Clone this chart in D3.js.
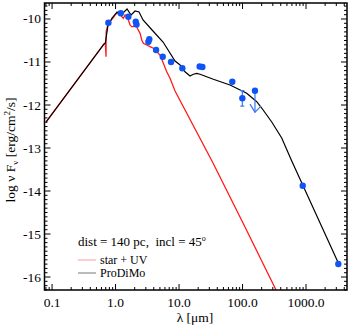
<!DOCTYPE html>
<html>
<head>
<meta charset="utf-8">
<script src="https://cdn.jsdelivr.net/npm/d3@7"></script>
<style>
  body { margin: 0; background: #fff; }
  svg { display: block; font-family: "Liberation Serif", "DejaVu Serif", serif; }
  .note { white-space: pre; }
</style>
</head>
<body>
<svg id="sed" width="349" height="326"></svg>
<script>
// ProDiMo model SED (lambda in micron, log nuFnu)
const modelLam  = [0.0805, 0.659, 0.690, 0.762, 0.881, 1.057, 1.178, 1.312, 1.517, 1.754, 2.028, 2.344, 2.710,
                   3.758, 5.598, 8.650, 10.37, 12.42, 14.89, 16.79, 19.01, 21.43, 34.67, 63.53, 116.4, 167.5,
                   200.4, 288.4, 414.0, 595.7, 887.2, 3228];
const modelFlux = [-12.395, -10.581, -10.558, -10.14, -9.977, -9.837, -9.884, -9.86, -9.767, -9.907, -9.814, -9.837, -10.023,
                   -10.256, -10.535, -10.977, -11.07, -11.226, -11.326, -11.286, -11.263, -11.286, -11.402, -11.535, -11.728, -11.923,
                   -12.07, -12.395, -12.767, -13.30, -13.86, -15.674];

// star + UV input spectrum
const starLam  = [0.0805, 0.659, 0.690, 0.708, 0.711, 0.743, 0.818, 0.904, 0.982, 1.045, 1.148, 1.253, 1.327, 1.413,
                  1.535, 1.592, 1.690, 1.799, 1.905, 2.104, 2.203, 2.432, 2.588, 2.742, 3.097, 3.491, 3.936, 4.457,
                  5.023, 5.662, 6.397, 7.211, 8.650, 34.28, 109.4, 325.1, 501];
const starFlux = [-12.395, -10.581, -10.565, -10.877, -10.295, -10.179, -10.063, -9.984, -9.907, -9.867, -9.853, -9.947, -9.984, -9.907,
                  -9.947, -10.023, -10.140, -10.179, -10.179, -10.1, -10.216, -10.333, -10.488, -10.565, -10.605, -10.644, -10.681, -10.760,
                  -10.837, -11.030, -11.226, -11.379, -11.674, -13.349, -14.837, -16.256, -16.8];

// photometry
const obsLam   = [0.771, 1.208, 1.592, 2.08, 2.14, 3.29, 3.40, 4.35, 5.53, 7.48, 11.27, 21.1, 23.3, 69.0, 99.3, 157, 887, 3228];
const obsFlux  = [-10.086, -9.867, -9.947, -10.063, -10.128, -10.528, -10.472, -10.721, -10.877, -11.0, -11.147, -11.105, -11.116,
                  -11.458, -11.844, -11.667, -13.877, -15.698];
const obsErr   = [0, 0, 0, 0, 0, 0, 0, 0, 0, 0, 0, 0, 0, 0, 0.18, 0, 0, 0];
const obsUpper = [0, 0, 0, 0, 0, 0, 0, 0, 0, 0, 0, 0, 0, 0, 0, 1, 0, 0];

const xTicks = [0.1, 1, 10, 100, 1000];
const xTickLabels = ["0.1", "1.0", "10.0", "100.0", "1000.0"];
const yTicks = [-16, -15, -14, -13, -12, -11, -10];

const legendNames = ["star + UV", "ProDiMo"];
const note = "dist = 140 pc,  incl = 45";

let chart = d3.select("#sed");
let pLeft = 44.5, pRight = 347, pTop = 3, pBottom = 290;

let x = d3.scaleLog().domain([0.076, 4420]).range([pLeft, pRight]);
let y = d3.scaleLinear().domain([-16.302, -9.628]).range([pBottom, pTop]);

// minor ticks
let xMinor = [];
for (let e = -2; e <= 3; e++) for (let m = 2; m <= 9; m++) {
  let v = m * Math.pow(10, e);
  if (v > 0.076 && v < 4420) xMinor.push(v);
}
let yMinor = d3.range(-163, -96).map(d => d / 10).filter(d => !Number.isInteger(d));

chart.append("clipPath").attr("id", "clip")
  .append("rect").attr("x", pLeft).attr("y", pTop).attr("width", pRight - pLeft).attr("height", pBottom - pTop);

let plot = chart.append("g").attr("clip-path", "url(#clip)");

let line = d3.line()
  .x(d => x(d[0]))
  .y(d => y(d[1]));

// star + UV
plot.append("path")
  .datum(starLam.map((l, i) => [l, starFlux[i]]))
  .attr("d", line)
  .attr("fill", "none")
  .attr("stroke", "#ff1a1a")
  .attr("stroke-width", 1.3);

// ProDiMo
plot.append("path")
  .datum(modelLam.map((l, i) => [l, modelFlux[i]]))
  .attr("d", line)
  .attr("fill", "none")
  .attr("stroke", "#000")
  .attr("stroke-width", 1.2);

let obs = obsLam.map((l, i) => ({ lam: l, f: obsFlux[i], err: obsErr[i], up: obsUpper[i] }));
let blue = "#0f55f5";

// error bars
obs.filter(d => d.err > 0).forEach(d => {
  let g = plot.append("g").attr("stroke", "#3a78f0").attr("stroke-width", 1.2);
  g.append("line").attr("x1", x(d.lam)).attr("x2", x(d.lam)).attr("y1", y(d.f - d.err)).attr("y2", y(d.f + d.err));
  g.append("line").attr("x1", x(d.lam) - 2).attr("x2", x(d.lam) + 2).attr("y1", y(d.f - d.err)).attr("y2", y(d.f - d.err));
  g.append("line").attr("x1", x(d.lam) - 2).attr("x2", x(d.lam) + 2).attr("y1", y(d.f + d.err)).attr("y2", y(d.f + d.err));
});

// upper limits
obs.filter(d => d.up).forEach(d => {
  let g = plot.append("g").attr("stroke", "#3a78f0").attr("stroke-width", 1.2).attr("fill", "none");
  let cx = x(d.lam), y0 = y(d.f), y1 = y(d.f - 0.5);
  g.append("line").attr("x1", cx).attr("x2", cx).attr("y1", y0).attr("y2", y1);
  g.append("path").attr("d", `M${cx - 5},${y1 - 8}L${cx},${y1}L${cx + 6},${y1 - 6}`);
});

plot.selectAll("circle.obs")
  .data(obs).enter()
    .append("circle")
      .attr("class", "obs")
      .attr("cx", d => x(d.lam))
      .attr("cy", d => y(d.f))
      .attr("r", 3.2)
      .attr("fill", blue);

// frame
chart.append("rect")
  .attr("x", pLeft).attr("y", pTop).attr("width", pRight - pLeft).attr("height", pBottom - pTop)
  .attr("fill", "none").attr("stroke", "#000").attr("stroke-width", 1.5);

// ticks on all sides
let tk = chart.append("g").attr("stroke", "#000").attr("stroke-width", 1);
function xt(vals, len) {
  vals.forEach(v => {
    tk.append("line").attr("x1", x(v)).attr("x2", x(v)).attr("y1", pBottom).attr("y2", pBottom - len);
    tk.append("line").attr("x1", x(v)).attr("x2", x(v)).attr("y1", pTop).attr("y2", pTop + len);
  });
}
function yt(vals, len) {
  vals.forEach(v => {
    tk.append("line").attr("x1", pLeft).attr("x2", pLeft + len).attr("y1", y(v)).attr("y2", y(v));
    tk.append("line").attr("x1", pRight).attr("x2", pRight - len).attr("y1", y(v)).attr("y2", y(v));
  });
}
xt(xTicks, 6); xt(xMinor, 3);
yt(yTicks, 6); yt(yMinor, 3);

// tick labels
chart.selectAll("text.xl")
  .data(xTicks).enter()
    .append("text")
      .attr("x", d => x(d))
      .attr("y", 307)
      .attr("text-anchor", "middle")
      .attr("font-size", 13.5)
      .text((d, i) => xTickLabels[i]);

chart.selectAll("text.yl")
  .data(yTicks).enter()
    .append("text")
      .attr("x", 41)
      .attr("y", d => y(d) + 4.5)
      .attr("text-anchor", "end")
      .attr("font-size", 13.5)
      .text(d => d);

// axis titles
chart.append("text")
  .attr("x", 195).attr("y", 322)
  .attr("text-anchor", "middle")
  .attr("font-size", 13.5)
  .text("λ [μm]");

let yl = chart.append("text")
  .attr("transform", "translate(15,150) rotate(-90)")
  .attr("text-anchor", "middle")
  .attr("font-size", 13.5);
yl.append("tspan").text("log ν F");
yl.append("tspan").attr("font-size", 9).attr("dy", 3).text("ν");
yl.append("tspan").attr("dy", -3).text(" [erg/cm");
yl.append("tspan").attr("font-size", 9).attr("dy", -5).text("2");
yl.append("tspan").attr("dy", 5).text("/s]");

// annotation
let nt = chart.append("text")
  .attr("class", "note")
  .attr("x", 78).attr("y", 246)
  .attr("font-size", 13);
nt.append("tspan").text(note);
nt.append("tspan").attr("font-size", 8).attr("dy", -5).text("o");

// legend
let legColors = ["#ff9a9a", "#777"];
legendNames.forEach((n, i) => {
  let ly = 260 + i * 13;
  chart.append("line")
    .attr("x1", 78).attr("x2", 96).attr("y1", ly).attr("y2", ly)
    .attr("stroke", legColors[i]).attr("stroke-width", 1);
  chart.append("text")
    .attr("x", 100).attr("y", ly + 4)
    .attr("font-size", 12)
    .text(n);
});
</script>
</body>
</html>
